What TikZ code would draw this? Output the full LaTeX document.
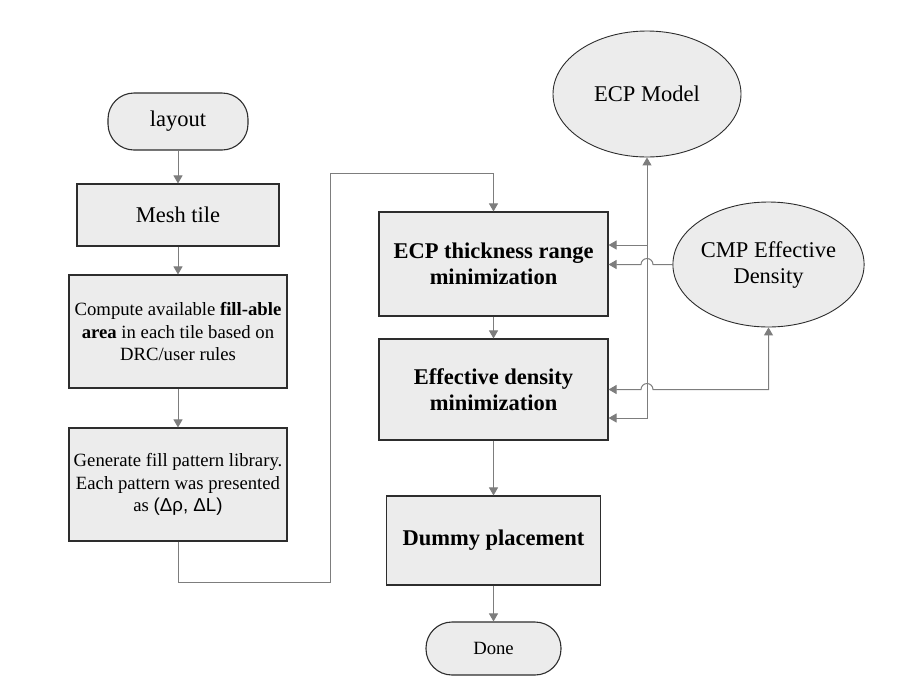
\documentclass[tikz,border=0pt]{standalone}
\usepackage{fontspec}
\setmainfont{Liberation Serif}
\newfontfamily\grecfont{Liberation Sans}
\usepackage{tikz}
\usetikzlibrary{arrows.meta,shapes.geometric}

\definecolor{fond}{RGB}{236,236,236}
\definecolor{trait}{RGB}{45,45,45}
\definecolor{gristrait}{RGB}{125,125,125}

\tikzset{
  boite/.style={draw=trait, fill=fond, line width=1.1pt, inner sep=0pt, align=center},
  pilule/.style={boite, rounded corners=26pt},
  bulle/.style={boite, ellipse, line width=0.9pt},
  lien/.style={draw=gristrait, line width=1pt},
  grand/.style={font=\fontsize{22.5}{26}\selectfont},
  petit/.style={font=\fontsize{18.7}{22.5}\selectfont},
}

\begin{document}
\begin{tikzpicture}[x=1pt, y=1pt, >={Triangle[length=8pt,width=9pt]}]
    \useasboundingbox (0, 0) rectangle (907, -694);

    % colonne de gauche
    \node[pilule, grand, minimum width=140pt, minimum height=57pt] (layout) at (178, -121.5) {layout};
    \node[boite, grand, minimum width=202pt, minimum height=62pt] (mesh) at (178, -215) {Mesh tile};
    \node[boite, petit, minimum width=218pt, minimum height=113pt] (compute) at (178, -331.5)
        {Compute available \textbf{fill-able}\\\textbf{area} in each tile based on\\DRC/user rules};
    \node[boite, petit, minimum width=218pt, minimum height=113pt] (generate) at (178, -484.5)
        {Generate fill pattern library.\\Each pattern was presented\\as {\grecfont(Δρ, ΔL)}};

    % colonne du milieu
    \node[boite, grand, minimum width=229pt, minimum height=104pt] (ecp) at (493.5, -264)
        {\textbf{ECP thickness range}\\\textbf{minimization}};
    \node[boite, grand, minimum width=229pt, minimum height=101pt] (effdens) at (493.5, -389.5)
        {\textbf{Effective density}\\\textbf{minimization}};
    \node[boite, grand, minimum width=214pt, minimum height=89pt] (dummy) at (493.5, -540.5)
        {\textbf{Dummy placement}};
    \node[pilule, petit, minimum width=135pt, minimum height=53pt] (done) at (493.5, -648.5) {Done};

    % modeles
    \node[bulle, grand, minimum width=188pt, minimum height=126pt] (ecpmodel) at (647, -94) {ECP Model};
    \node[bulle, grand, minimum width=189pt, minimum height=125pt] (cmp) at (768.5, -264.5)
        {CMP Effective\\Density};

    % fleches
    \draw[lien, ->] (layout) -- (mesh);
    \draw[lien, ->] (mesh) -- (compute);
    \draw[lien, ->] (compute) -- (generate);
    \draw[lien, ->] (generate.south) -- ++(0, -41) -| (330, -173) -| (ecp.north);
    \draw[lien, ->] (ecp) -- (effdens);
    \draw[lien, ->] (effdens) -- (dummy);
    \draw[lien, ->] (dummy) -- (done);

    % retours vers les modeles
    \coordinate (jonction) at (647, -245);
    \draw[lien, <->] ([yshift=-28.5pt]effdens.east) -| (ecpmodel.south);
    \draw[lien, ->] (jonction) -- (ecp.east |- jonction);
    \draw[lien, ->] (cmp.west) -- (653, -264.5) arc[start angle=0, end angle=180, radius=6pt]
        -- (ecp.east |- cmp.west);
    \draw[lien, <->] (cmp.south) -- (cmp.south |- effdens.east) -- (653, -389.5)
        arc[start angle=0, end angle=180, radius=6pt] -- (effdens.east);

  \end{tikzpicture}
\end{document}
